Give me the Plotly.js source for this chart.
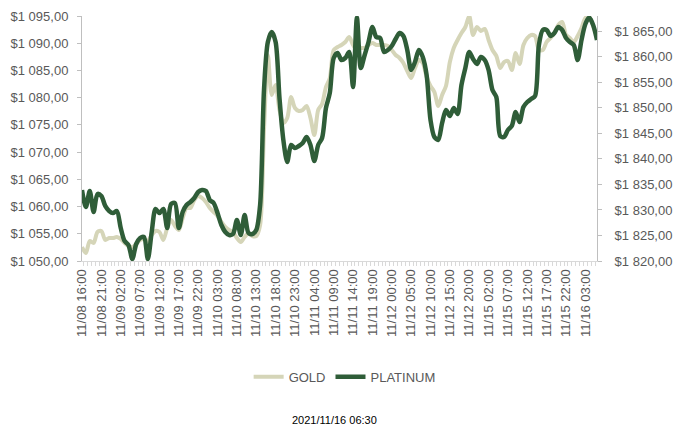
<!DOCTYPE html>
<html>
<head>
<meta charset="utf-8">
<script src="https://cdn.plot.ly/plotly-3.0.1.min.js"></script>
<style>
html,body{margin:0;padding:0;background:#fff;}
#chart{width:673px;height:428px;}
</style>
</head>
<body>
<div id="chart"></div>
<script>
// Hourly categories (weekend gap between 11/12 and 11/15)
const categories = [
"11/08 16:00","11/08 17:00","11/08 18:00","11/08 19:00","11/08 20:00","11/08 21:00","11/08 22:00","11/08 23:00",
"11/09 00:00","11/09 01:00","11/09 02:00","11/09 03:00","11/09 04:00","11/09 05:00","11/09 06:00","11/09 07:00",
"11/09 08:00","11/09 09:00","11/09 10:00","11/09 11:00","11/09 12:00","11/09 13:00","11/09 14:00","11/09 15:00",
"11/09 16:00","11/09 17:00","11/09 18:00","11/09 19:00","11/09 20:00","11/09 21:00","11/09 22:00","11/09 23:00",
"11/10 00:00","11/10 01:00","11/10 02:00","11/10 03:00","11/10 04:00","11/10 05:00","11/10 06:00","11/10 07:00",
"11/10 08:00","11/10 09:00","11/10 10:00","11/10 11:00","11/10 12:00","11/10 13:00","11/10 14:00","11/10 15:00",
"11/10 16:00","11/10 17:00","11/10 18:00","11/10 19:00","11/10 20:00","11/10 21:00","11/10 22:00","11/10 23:00",
"11/11 00:00","11/11 01:00","11/11 02:00","11/11 03:00","11/11 04:00","11/11 05:00","11/11 06:00","11/11 07:00",
"11/11 08:00","11/11 09:00","11/11 10:00","11/11 11:00","11/11 12:00","11/11 13:00","11/11 14:00","11/11 15:00",
"11/11 16:00","11/11 17:00","11/11 18:00","11/11 19:00","11/11 20:00","11/11 21:00","11/11 22:00","11/11 23:00",
"11/12 00:00","11/12 01:00","11/12 02:00","11/12 03:00","11/12 04:00","11/12 05:00","11/12 06:00","11/12 07:00",
"11/12 08:00","11/12 09:00","11/12 10:00","11/12 11:00","11/12 12:00","11/12 13:00","11/12 14:00","11/12 15:00",
"11/12 16:00","11/12 17:00","11/12 18:00","11/12 19:00","11/12 20:00","11/12 21:00",
"11/14 23:00",
"11/15 00:00","11/15 01:00","11/15 02:00","11/15 03:00","11/15 04:00","11/15 05:00","11/15 06:00","11/15 07:00",
"11/15 08:00","11/15 09:00","11/15 10:00","11/15 11:00","11/15 12:00","11/15 13:00","11/15 14:00","11/15 15:00",
"11/15 16:00","11/15 17:00","11/15 18:00","11/15 19:00","11/15 20:00","11/15 21:00","11/15 22:00","11/15 23:00",
"11/16 00:00","11/16 01:00","11/16 02:00","11/16 03:00","11/16 04:00","11/16 05:00","11/16 06:00"
];

const xTickLabels = [
"11/08 16:00","11/08 21:00","11/09 02:00","11/09 07:00","11/09 12:00","11/09 17:00","11/09 22:00",
"11/10 03:00","11/10 08:00","11/10 13:00","11/10 18:00","11/10 23:00","11/11 04:00","11/11 09:00",
"11/11 14:00","11/11 19:00","11/12 00:00","11/12 05:00","11/12 10:00","11/12 15:00","11/12 20:00",
"11/15 02:00","11/15 07:00","11/15 12:00","11/15 17:00","11/15 22:00","11/16 03:00"
];

const gold = [
1052.57,1051.47,1053.67,1053.31,1055.33,1055.51,1053.86,1054.22,1054.22,1054.41,
1054.04,1053.31,1052.76,1052.57,1053.12,1053.86,1054.04,1053.67,1054.78,1055.51,
1055.33,1053.86,1056.06,1057.53,1056.43,1055.69,1057.90,1059.74,1059.74,1061.20,
1061.94,1061.57,1060.84,1059.74,1059.00,1058.27,1057.16,1056.25,1055.69,1055.33,
1054.22,1053.49,1054.41,1055.14,1054.59,1054.59,1056.61,1074.06,1087.84,1080.49,
1082.33,1077.74,1075.35,1076.27,1080.12,1078.10,1077.55,1077.74,1078.47,1076.27,
1073.14,1077.74,1078.84,1081.96,1083.61,1088.76,1089.31,1089.68,1090.23,1091.15,
1089.68,1088.76,1089.13,1089.13,1089.68,1090.04,1089.68,1089.68,1089.68,1089.49,
1088.76,1087.84,1087.29,1086.37,1084.90,1083.61,1085.45,1086.92,1086.37,1083.80,
1082.15,1081.04,1078.47,1080.49,1082.15,1086.55,1089.13,1090.60,1091.88,1092.98,
1095.00,1091.51,1092.98,1092.25,1092.62,1090.60,1088.76,1087.66,1085.45,1086.55,
1086.74,1085.08,1088.21,1086.19,1089.68,1090.96,1091.51,1091.33,1088.76,1088.76,
1090.23,1090.96,1091.88,1093.35,1093.90,1091.51,1090.96,1090.23,1091.33,1092.80,
1094.64,1094.82,1093.17,1091.15
];

const platinum = [
1833.91,1830.58,1833.71,1829.60,1833.13,1832.74,1830.78,1829.80,1829.40,1829.80,
1826.47,1823.92,1823.13,1820.39,1823.33,1824.51,1824.70,1820.39,1825.68,1830.19,
1829.40,1830.19,1826.47,1831.17,1831.36,1826.47,1829.60,1830.97,1831.56,1832.34,
1833.52,1833.91,1833.71,1831.95,1831.36,1829.40,1827.05,1825.68,1825.09,1825.29,
1828.03,1825.09,1829.01,1825.49,1825.29,1826.07,1830.97,1853.50,1862.91,1864.87,
1862.91,1851.94,1843.71,1839.40,1842.73,1842.14,1842.53,1843.12,1844.29,1842.73,
1839.59,1842.73,1844.10,1849.98,1852.92,1859.77,1860.75,1859.38,1859.77,1860.95,
1854.09,1867.70,1857.81,1860.36,1862.91,1865.85,1863.89,1863.69,1860.95,1861.34,
1862.12,1863.50,1864.67,1864.08,1861.34,1857.42,1858.99,1861.34,1859.97,1856.44,
1847.63,1844.29,1843.71,1847.04,1849.58,1848.41,1849.98,1848.80,1854.48,1857.81,
1860.95,1859.58,1858.60,1859.97,1859.38,1857.42,1853.50,1852.13,1844.49,1844.29,
1845.67,1846.45,1849.19,1847.23,1850.17,1851.15,1851.74,1852.33,1862.32,1865.26,
1865.26,1864.08,1864.67,1865.85,1865.26,1863.69,1862.91,1862.32,1859.38,1863.30,
1866.43,1867.70,1866.24,1863.30
];

const updatedText = "2021/11/16 06:30";

const tickText = categories.map(c => xTickLabels.indexOf(c) >= 0 ? c : "");

const FONT = "Liberation Sans, Arial, sans-serif";
const GREY = "#595959";

const traces = [
  {
    x: categories, y: gold, name: "GOLD", type: "scatter", mode: "lines",
    yaxis: "y",
    line: {color: "#d5d5b8", width: 4, shape: "spline", smoothing: 0.8},
    hoverinfo: "skip"
  },
  {
    x: categories, y: platinum, name: "PLATINUM", type: "scatter", mode: "lines",
    yaxis: "y2",
    line: {color: "#2f5d38", width: 4.5, shape: "spline", smoothing: 0.8},
    hoverinfo: "skip"
  }
];

const layout = {
  width: 673, height: 428,
  margin: {l: 82, r: 76, t: 16, b: 167, pad: 0},
  paper_bgcolor: "#ffffff", plot_bgcolor: "#ffffff",
  separators: ", ",
  font: {family: FONT, size: 13, color: GREY},
  showlegend: true,
  legend: {
    orientation: "h", x: 0.51, xanchor: "center", y: -0.473, yanchor: "middle",
    font: {family: FONT, size: 13, color: GREY},
    itemwidth: 30, tracegroupgap: 0, bgcolor: "rgba(0,0,0,0)"
  },
  xaxis: {
    type: "category",
    tickmode: "array", tickvals: categories, ticktext: tickText,
    tickangle: -90,
    tickson: "boundaries",
    ticks: "outside", ticklen: 4, tickcolor: "#d9d9d9",
    showline: true, linecolor: "#d9d9d9", linewidth: 1,
    showgrid: false, zeroline: false,
    tickfont: {family: FONT, size: 13, color: GREY},
    ticklabelstandoff: 2,
    automargin: false
  },
  yaxis: {
    range: [1050, 1095], dtick: 5, tick0: 1050,
    tickprefix: "$", tickformat: ",.2f",
    ticks: "outside", ticklen: 4, tickcolor: "#bfbfbf",
    showline: true, linecolor: "#bfbfbf", linewidth: 1,
    showgrid: false, zeroline: false,
    tickfont: {family: FONT, size: 13, color: GREY},
    ticklabelstandoff: 6,
    automargin: false
  },
  yaxis2: {
    overlaying: "y", side: "right",
    range: [1820, 1868], dtick: 5, tick0: 1820,
    tickprefix: "$", tickformat: ",.2f",
    ticks: "outside", ticklen: 4, tickcolor: "#bfbfbf",
    showline: true, linecolor: "#bfbfbf", linewidth: 1,
    showgrid: false, zeroline: false,
    tickfont: {family: FONT, size: 13, color: GREY},
    ticklabelstandoff: 10,
    automargin: false
  },
  annotations: [{
    text: updatedText, xref: "paper", yref: "paper",
    x: 0.49, y: -0.649, xanchor: "center", yanchor: "middle",
    showarrow: false, font: {family: FONT, size: 11, color: "#000000"}
  }]
};

Plotly.newPlot("chart", traces, layout, {displayModeBar: false, staticPlot: true});
</script>
</body>
</html>
